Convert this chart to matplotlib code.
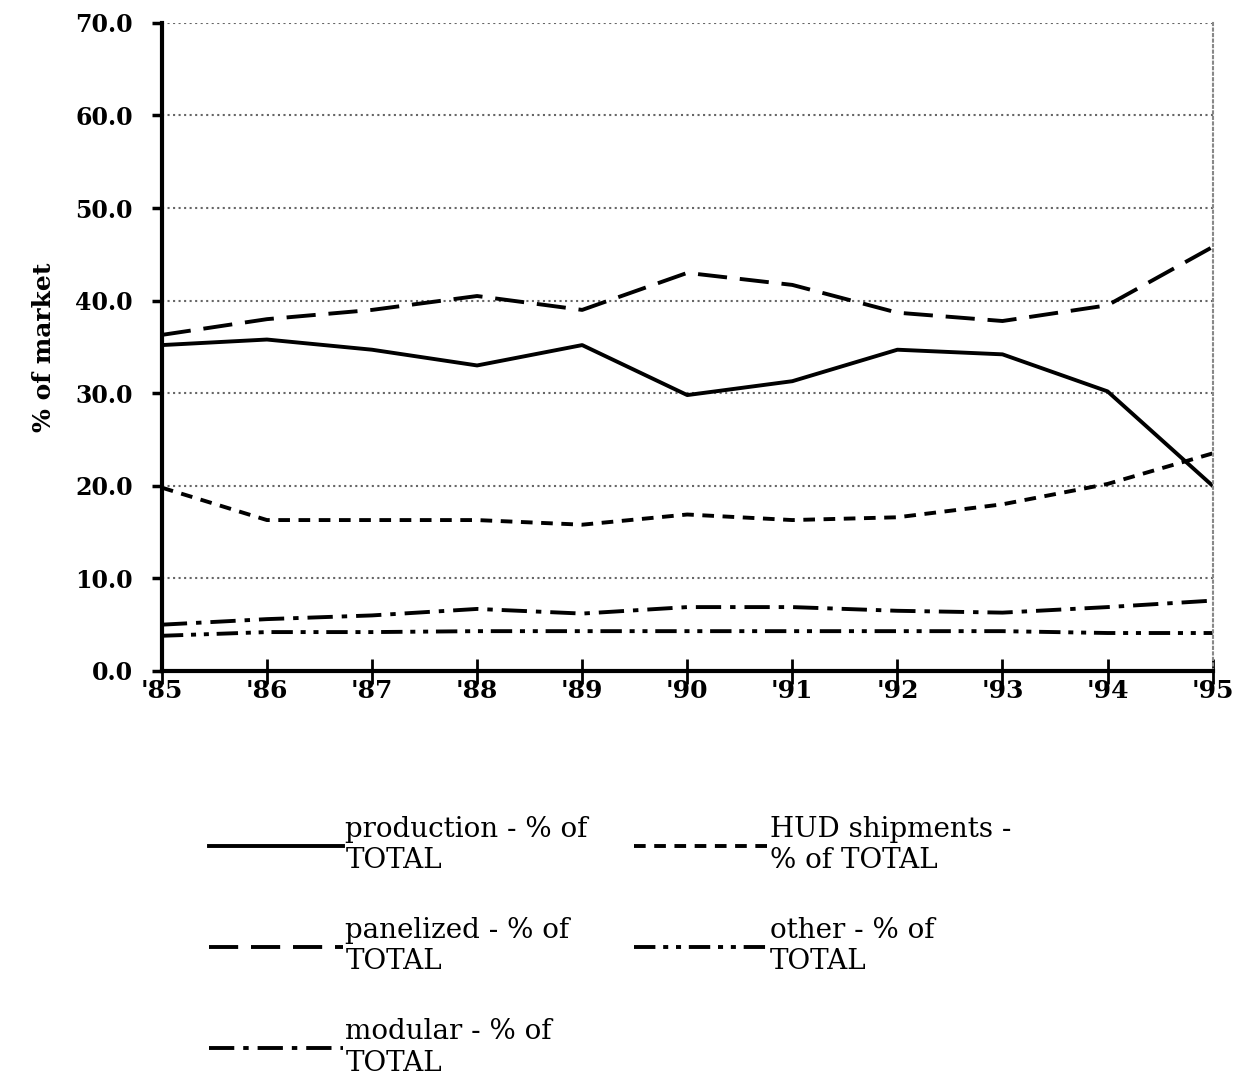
import matplotlib.pyplot as plt

years = ["'85", "'86", "'87", "'88", "'89", "'90", "'91", "'92", "'93", "'94", "'95"]
production = [35.2, 35.8, 34.7, 33.0, 35.2, 29.8, 31.3, 34.7, 34.2, 30.2, 20.0]
hud = [19.8, 16.3, 16.3, 16.3, 15.8, 16.9, 16.3, 16.6, 18.0, 20.2, 23.5]
panelized = [36.3, 38.0, 39.0, 40.5, 39.0, 43.0, 41.7, 38.7, 37.8, 39.5, 45.8]
other = [3.8, 4.2, 4.2, 4.3, 4.3, 4.3, 4.3, 4.3, 4.3, 4.1, 4.1]
modular = [5.0, 5.6, 6.0, 6.7, 6.2, 6.9, 6.9, 6.5, 6.3, 6.9, 7.6]
yticks = [0, 10, 20, 30, 40, 50, 60, 70]

plt.rcParams['font.family'] = ['DejaVu Serif']

fig = plt.figure(figsize=(12.45, 10.91), dpi=100)
ax = fig.add_axes([0.130, 0.385, 0.844, 0.594])
x = list(range(len(years)))

lw = 2.8
l1, = ax.plot(x, production, color='black', lw=lw, ls='-', label='production - % of\nTOTAL')
l2, = ax.plot(x, hud, color='black', lw=lw, ls=(0, (3, 2.2)), label='HUD shipments -\n% of TOTAL')
l3, = ax.plot(x, panelized, color='black', lw=lw, ls=(0, (7.5, 3.3)), label='panelized - % of\nTOTAL')
l4, = ax.plot(x, other, color='black', lw=lw, ls=(0, (5.5, 2, 1.3, 2, 1.3, 2)), label='other - % of\nTOTAL')
l5, = ax.plot(x, modular, color='black', lw=lw, ls=(0, (6.5, 2.3, 1.4, 2.3)), label='modular - % of\nTOTAL')

ax.set_xlim(0, 10)
ax.set_ylim(0, 70)
ax.set_xticks(x)
ax.set_xticklabels(years, fontsize=18, fontweight='bold')
ax.set_yticks(yticks)
ax.set_yticklabels([f'{v:.1f}' for v in yticks], fontsize=17, fontweight='bold')
ax.yaxis.grid(True, color='#666666', ls=':', lw=1.5)
ax.set_axisbelow(True)

ax.spines['left'].set_linewidth(3)
ax.spines['bottom'].set_linewidth(3)
ax.spines['top'].set_visible(False)
ax.spines['right'].set_color('#888888')
ax.spines['right'].set_linestyle(':')
ax.spines['right'].set_linewidth(1.5)
ax.tick_params(axis='y', direction='out', length=7, width=2.5, pad=14)
ax.tick_params(axis='x', direction='inout', length=18, width=2, pad=-3)

ax.set_ylabel('% of market', fontsize=18, fontweight='bold', labelpad=14)

fig.legend(handles=[l1, l3, l5, l2, l4], loc='upper left', bbox_to_anchor=(0.148, 0.275),
           ncol=2, frameon=False, fontsize=20, handlelength=4.8, handletextpad=0.1,
           columnspacing=1.65, labelspacing=1.55)

fig.savefig('out.png')
